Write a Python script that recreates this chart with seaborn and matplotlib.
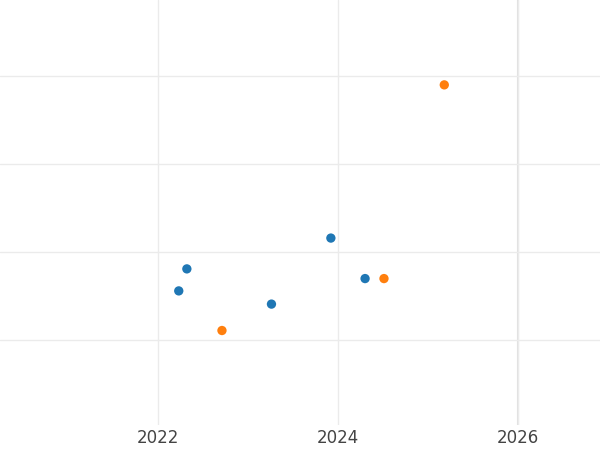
import matplotlib
matplotlib.use("Agg")
import matplotlib.pyplot as plt
import seaborn as sns
import pandas as pd

blue_x = [2022.23, 2022.32, 2023.26, 2023.92, 2024.30]
blue_y = [1.56, 1.81, 1.41, 2.16, 1.70]
orange_x = [2022.71, 2024.51, 2025.18]
orange_y = [1.11, 1.70, 3.90]

df = pd.DataFrame({
    "x": blue_x + orange_x,
    "y": blue_y + orange_y,
    "g": ["a"] * len(blue_x) + ["b"] * len(orange_x),
})

sns.set_theme(style="whitegrid")
fig = plt.figure(figsize=(6, 4.5), dpi=100)
ax = fig.add_axes([0, 0.055, 1, 0.945])
sns.scatterplot(data=df, x="x", y="y", hue="g", palette=["#1f77b4", "#ff7f0e"],
                s=45, edgecolor="none", legend=False, ax=ax)
ax.set_xlim(2020.244, 2026.91)
ax.set_ylim(0.034, 4.864)
ax.set_xticks([2022, 2024, 2026])
ax.set_yticks([1, 2, 3, 4])
ax.set_yticklabels([])
ax.tick_params(axis="x", labelsize=12, colors="#444444", length=0, pad=3)
ax.tick_params(axis="y", length=0)
ax.grid(color="#ebebeb", linewidth=1)
ax.axvline(2026, color="#e0e0e0", linewidth=1.5, zorder=0)
ax.set_xlabel("")
ax.set_ylabel("")
for s in ax.spines.values():
    s.set_visible(False)
fig.savefig("out.png", dpi=100)
